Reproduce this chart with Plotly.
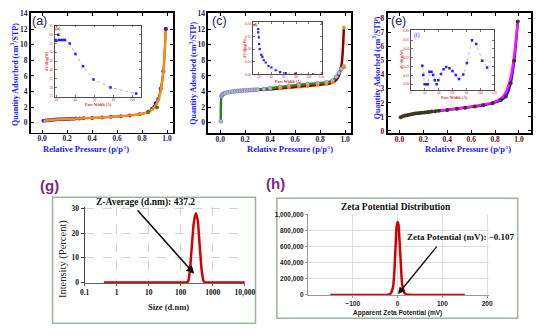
import plotly.graph_objects as go
import math

W, H = 550, 336
def fx(p): return p / W
def fy(p): return 1 - p / H

SERIF = "Liberation Serif, Times New Roman, serif"
SANS = "Liberation Sans, Arial, sans-serif"

# ---------------- data ----------------
# (a) isotherm
a_p = [0.01,0.03,0.05,0.07,0.09,0.11,0.13,0.15,0.17,0.19,0.21,0.23,0.25,0.27,0.30,0.33,0.40,0.48,0.55,0.63,0.70,0.78,0.85,0.88,0.91,0.93,0.95,0.97,0.99]
a_ads = [0.25,0.30,0.34,0.37,0.40,0.42,0.44,0.46,0.47,0.48,0.50,0.51,0.52,0.54,0.56,0.58,0.63,0.69,0.76,0.85,0.95,1.10,1.40,1.80,2.50,3.05,4.40,6.60,12.0]
a_des = [0.25,0.30,0.34,0.37,0.40,0.42,0.44,0.46,0.47,0.48,0.50,0.51,0.52,0.54,0.56,0.58,0.63,0.69,0.76,0.85,0.95,1.10,1.40,1.70,2.20,2.85,4.10,6.30,12.0]
a_mark_p = [0.85, 0.92, 0.99]
a_mark_v = [1.40, 1.95, 12.0]
# (b) inset PSD
b_w = [19,20,22,23,25,27,29,34,40,48,59,77,104]
b_v = [57,56.5,60,57,57,57,57,55,49,42,34.5,30,26.5]
# (c) isotherm
c_p = [0.005,0.01,0.015,0.02,0.03,0.04,0.06,0.08,0.10,0.12,0.14,0.16,0.18,0.20,0.22,0.24,0.26,0.28,0.30,0.35,0.40,0.48,0.55,0.63,0.70,0.78,0.85,0.90,0.93,0.95,0.97,0.99]
c_ads = [0.2,3.4,3.55,3.65,3.75,3.82,3.90,3.96,4.00,4.04,4.07,4.10,4.13,4.15,4.17,4.19,4.21,4.23,4.25,4.32,4.42,4.58,4.72,4.86,4.96,5.06,5.16,5.40,5.90,6.40,6.90,7.20]
c_dp = [0.01,0.02,0.04,0.08,0.12,0.16,0.20,0.25,0.30,0.35,0.40,0.48,0.55,0.63,0.70,0.78,0.85,0.90,0.93,0.95,0.97,0.98,0.99]
c_des = [3.3,3.6,3.78,3.93,4.02,4.08,4.13,4.18,4.22,4.26,4.30,4.40,4.50,4.62,4.72,4.84,4.96,5.15,5.50,6.00,7.20,8.80,12.0]
c_orange_p = [0.48,0.55,0.63,0.70,0.78,0.85,0.90,0.99,0.995]
c_orange_v = [4.40,4.50,4.62,4.72,4.84,4.96,5.15,12.2,7.1]
# (d) inset PSD
d_w = [19,19,20,20.5,21.5,24,25.7,28,31,35.5,40,47,54,63,78.5,107]
d_v = [0.180,0.167,0.147,0.120,0.100,0.077,0.069,0.056,0.047,0.033,0.027,0.016,0.009,0.005,0.003,0.000]
# (e) isotherm
e_p = [0.01,0.03,0.05,0.07,0.09,0.11,0.13,0.15,0.17,0.19,0.21,0.23,0.25,0.27,0.30,0.33,0.40,0.48,0.55,0.63,0.70,0.78,0.85,0.89,0.93,0.96,0.99]
e_ads = [0.97,1.05,1.10,1.14,1.18,1.21,1.24,1.26,1.28,1.30,1.32,1.34,1.36,1.38,1.41,1.44,1.50,1.58,1.65,1.74,1.83,1.98,2.20,2.45,3.40,5.00,7.80]
e_des = [0.97,1.05,1.10,1.14,1.18,1.21,1.24,1.26,1.28,1.30,1.32,1.34,1.36,1.38,1.41,1.44,1.51,1.60,1.68,1.78,1.88,2.04,2.32,2.75,3.80,5.40,7.80]
# (f) inset PSD
f_w = [16.5,17.9,19.8,22.6,24.5,26.8,29.6,32,34.4,37.2,39.5,43.3,47,50.8,55.5,59.8,64.5,69.2,75.3,80.5,88,94,102.6,109.6]
f_v = [0.021,0.0105,0.0,0.0,0.0,0.014,0.014,0.0105,0.0045,0.0,0.0045,0.0115,0.017,0.0195,0.018,0.015,0.0105,0.006,0.011,0.024,0.0497,0.0455,0.0265,0.019]
# (g) DLS size distribution
g_size = [0.4,1,10,100,150,170,190,220,255,295,340,390,450,520,600,1000,10000]
g_int = [0,0,0,0,0,0.5,4,14,24,28,25,15,5,0.5,0,0,0]
g_ticks = [0.1,1,10,100,1000,10000]
g_ticklabels = ["0.1","1","10","100","1000","10,000"]
z_average = 437.2
# (h) zeta potential distribution
h_mv = [-150,-30,-20,-15,-10,-7,-4,-2,0,2,4,7,10,15,20,30,150]
h_counts = [0,0,3000,20000,100000,300000,650000,850000,910000,880000,720000,420000,150000,30000,5000,0,0]
zeta = -0.107

fig = go.Figure()

def tr(x, y, n, **kw):
    s = "" if n == 1 else str(n)
    fig.add_trace(go.Scatter(x=x, y=y, xaxis="x" + s, yaxis="y" + s, showlegend=False, hoverinfo="skip", **kw))

# (a)
tr(a_p, a_ads, 1, mode="lines+markers", line=dict(color="#2020ff", width=2, shape="spline"), marker=dict(color="#2020ff", size=4))
tr(a_p, a_des, 1, mode="lines", line=dict(color="#ff8c00", width=2.5, shape="spline"))
tr(a_mark_p, a_mark_v, 1, mode="markers", marker=dict(color=["#6b6b10", "#6b6b10", "#5a1a7a"], size=4))
# (b)
tr(b_w, b_v, 2, mode="lines+markers", line=dict(color="#d8a8a8", width=1, dash="dot"), marker=dict(color="#2020ff", size=2.5, symbol="square"))
# (c)
tr(c_dp, c_des, 3, mode="lines", line=dict(color="#8b0000", width=2.5, shape="spline"))
tr(c_p, c_ads, 3, mode="lines+markers", line=dict(color="#1a8a1a", width=2.5, shape="spline"), marker=dict(color="#b8b8d8", size=4, line=dict(color="#7070a0", width=0.6)))
tr(c_orange_p, c_orange_v, 3, mode="markers", marker=dict(color="#ff8c00", size=3.5))
# (d)
tr(d_w, d_v, 4, mode="lines+markers", line=dict(color="#c8c8c8", width=1, dash="dot"), marker=dict(color="#2020ff", size=2.2, symbol="square"))
# (e)
tr(e_p, e_ads, 5, mode="lines", line=dict(color="#1010ff", width=2.5, shape="spline"))
tr(e_p, e_des, 5, mode="lines", line=dict(color="#ff10ff", width=2.5, shape="spline"))
tr(e_p, e_ads, 5, mode="markers", marker=dict(color="#3a3a1a", size=4))
# (f)
tr(f_w, f_v, 6, mode="lines+markers", line=dict(color="#e0b0b0", width=1, dash="dot"), marker=dict(color="#2020ff", size=2.5, symbol="square"))
# (g)
tr(g_size, g_int, 7, mode="lines", line=dict(color="#d40000", width=2.5, shape="spline", smoothing=0.6))
# (h)
tr(h_mv, h_counts, 8, mode="lines", line=dict(color="#d40000", width=2.5, shape="spline", smoothing=0.6))

def main_ax(x0, x1, rng, anchor, tickcolor, dtick, fmt):
    return dict(domain=[fx(x0), fx(x1)], range=rng, anchor=anchor, showline=True, linecolor="black",
                linewidth=1.8, mirror="ticks", ticks="inside", ticklen=3, tickwidth=1, tickcolor="black",
                showgrid=False, zeroline=False, dtick=dtick, tick0=0, tickformat=fmt,
                ticklabelstandoff=-2,
                tickfont=dict(family=SERIF, size=7.5, color=tickcolor, weight="bold"))

def main_ay(y0, y1, rng, anchor, tickcolor, dtick):
    return dict(domain=[fy(y1), fy(y0)], range=rng, anchor=anchor, showline=True, linecolor="black",
                linewidth=1.8, mirror="ticks", ticks="inside", ticklen=3, tickwidth=1, tickcolor="black",
                showgrid=False, zeroline=False, dtick=dtick, tick0=0,
                tickfont=dict(family=SERIF, size=7.5, color=tickcolor, weight="bold"))

def inset_ax(x0, x1, rng, anchor, tickvals, fmt, color):
    return dict(domain=[fx(x0), fx(x1)], range=rng, anchor=anchor, showline=True, linecolor="#222",
                linewidth=0.8, mirror="ticks", ticks="inside", ticklen=2, tickwidth=0.6, tickcolor="#222",
                showgrid=False, zeroline=False, tickvals=tickvals, tickformat=fmt,
                ticklabelstandoff=-1,
                tickfont=dict(family=SERIF, size=3.5, color=color))

def inset_ay(y0, y1, rng, anchor, tickvals, fmt, color):
    return dict(domain=[fy(y1), fy(y0)], range=rng, anchor=anchor, showline=True, linecolor="#222",
                linewidth=0.8, mirror="ticks", ticks="inside", ticklen=2, tickwidth=0.6, tickcolor="#222",
                showgrid=False, zeroline=False, tickvals=tickvals, tickformat=fmt,
                tickfont=dict(family=SERIF, size=3.5, color=color))

NAVY = "#1e1e50"
DRED = "#6a1010"
layout = dict(
    width=W, height=H, margin=dict(l=0, r=0, t=0, b=0),
    paper_bgcolor="white", plot_bgcolor="white", showlegend=False,
    xaxis=main_ax(26.7, 173.3, [-0.09, 1.05], "y", NAVY, 0.2, ".1f"),
    yaxis=main_ay(9.3, 131.7, [-1.25, 14.05], "x", NAVY, 2),
    xaxis2=inset_ax(51, 140, [18, 109], "y2", [20, 40, 60, 80, 100], "d", "#d03030"),
    yaxis2=inset_ay(22, 95, [24.7, 65.2], "x2", [25, 30, 35, 40, 45, 50, 55, 60, 65], "d", "#d03030"),
    xaxis3=main_ax(209.3, 356.7, [-0.096, 1.05], "y3", NAVY, 0.2, ".1f"),
    yaxis3=main_ay(9.3, 132.5, [-1.35, 14.05], "x3", NAVY, 2),
    xaxis4=inset_ax(255, 327, [10, 122], "y4", [20, 40, 60, 80, 100, 120], "d", "#d03030"),
    yaxis4=inset_ay(18, 72, [0, 0.21], "x4", [0, 0.05, 0.10, 0.15, 0.20], ".2f", "#d03030"),
    xaxis5=main_ax(394, 541.7, [-0.1, 1.1], "y5", DRED, 0.2, ".1f"),
    yaxis5=main_ay(9.3, 132.5, [-0.17, 8.4], "x5", DRED, 1),
    xaxis6=inset_ax(418, 504, [0, 120], "y6", [0, 20, 40, 60, 80, 100, 120], "d", "#d03030"),
    yaxis6=inset_ay(27, 88, [-0.0065, 0.061], "x6", [0, 0.01, 0.02, 0.03, 0.04, 0.05, 0.06], ".2f", "#d03030"),
    xaxis7=dict(domain=[fx(82), fx(247)], type="log", range=[-1, 4], anchor="y7", showline=True,
                linecolor="#666", linewidth=1, ticks="outside", ticklen=2, tickcolor="#666",
                tickvals=g_ticks, ticktext=g_ticklabels, showgrid=True, gridcolor="#c8c8c8",
                griddash="dash", gridwidth=0.8, zeroline=False,
                tickfont=dict(family=SERIF, size=7.5, color="#111", weight="bold")),
    yaxis7=dict(domain=[fy(286), fy(208)], range=[-0.3, 30.5], anchor="x7", showline=True,
                linecolor="#444", linewidth=1, ticks="outside", ticklen=3, tickcolor="#444",
                tickvals=[0, 10, 20, 30], showgrid=True, gridcolor="#c8c8c8", griddash="dash",
                gridwidth=0.8, zeroline=False,
                tickfont=dict(family=SERIF, size=7.5, color="#111", weight="bold")),
    xaxis8=dict(domain=[fx(312), fx(498)], range=[-200, 203], anchor="y8", showline=True,
                linecolor="#999", linewidth=1, ticks="outside", ticklen=2, tickcolor="#999",
                tickvals=[-100, 0, 100, 200], showgrid=True, gridcolor="#d6d6d6", gridwidth=0.8,
                zeroline=False, tickfont=dict(family=SANS, size=6.5, color="#222", weight="bold")),
    yaxis8=dict(domain=[fy(298), fy(215)], range=[0, 1.01e6], anchor="x8", showline=True,
                linecolor="#999", linewidth=1, ticks="outside", ticklen=2, tickcolor="#999",
                tickvals=[0, 200000, 400000, 600000, 800000, 1000000], tickformat=",d",
                showgrid=True, gridcolor="#d6d6d6", gridwidth=0.8, zeroline=False,
                tickfont=dict(family=SANS, size=6.5, color="#222", weight="bold")),
)
fig.update_layout(**layout)

# frames for (g) and (h)
for (x0, y0, x1, y1) in [(49, 198, 258, 327), (280, 199, 528, 322)]:
    fig.add_shape(type="rect", xref="paper", yref="paper", x0=fx(x0), x1=fx(x1), y0=fy(y1), y1=fy(y0),
                  line=dict(color="#9db59d", width=1.5), layer="below")

ann = []
def txt(x, y, text, size, color, family=SERIF, bold=True, angle=0, xanchor="center"):
    ann.append(dict(x=fx(x), y=fy(y), xref="paper", yref="paper", text=text, showarrow=False,
                    textangle=angle, xanchor=xanchor, yanchor="middle",
                    font=dict(family=family, size=size, color=color, weight="bold" if bold else "normal")))

BLUE = "#2020ff"
# panel labels
txt(36, 17, "(a)", 12.5, "#1a1a5a", SANS, bold=False)
txt(221, 17, "(c)", 12.5, "#1a1a5a", SANS, bold=False)
txt(405, 17, "(e)", 12.5, "#1a1a5a", SANS, bold=False)
txt(46, 186, "(g)", 15, "#7a2a8a", SANS)
txt(279, 184, "(h)", 15, "#7a2a8a", SANS)
# main axis titles
for cx in [83, 294, 477]:
    txt(cx, 149, "Relative Pressure (p/p°)", 8.5, BLUE)
txt(10, 72, "Quantity Adsorbed (cm<sup>3</sup>/STP)", 8, BLUE, angle=-90)
txt(194, 71, "Quantity Adsorbed (cm<sup>3</sup>/STP)", 8, BLUE, angle=-90)
txt(383, 65, "Quantity Adsorbed (cm<sup>3</sup>/STP)", 8, BLUE, angle=-90)
# insets
txt(55, 25, "(b)", 4.5, "#e02020")
txt(258, 21, "(d)", 4.5, "#e02020")
txt(424, 32, "(f)", 5.5, BLUE, bold=False)
txt(42.5, 58, "dV/dlog(W)", 3.8, "#d03030", angle=-90)
txt(247, 45, "dV/dlog(W)", 3.8, "#d03030", angle=-90)
txt(408.5, 57, "dV/dlog(W)", 3.8, "#d03030", angle=-90)
txt(96, 103, "Pore Width (Å)", 4, "#d03030")
txt(292, 79.5, "Pore Width (Å)", 4, "#d03030")
txt(463, 96, "Pore Width (Å)", 4, "#d03030")
# (g)
txt(145, 203, "Z-Average (d.nm): %.1f" % z_average, 9.5, "#111")
txt(60, 261, "Intensity (Percent)", 10.5, "#222", bold=False, angle=-90)
txt(168, 310, "Size (d.nm)", 8.5, "#222")
# (h)
txt(403, 208, "Zeta Potential Distribution", 9.5, "#111")
txt(470, 239, "Zeta Potential (mV): −%.3f" % abs(zeta), 9, "#111")
txt(404, 316.5, "Apparent Zeta Potential (mV)", 6.5, "#222", SANS)

# arrows
ann.append(dict(x=math.log10(263), y=3.5, xref="x7", yref="y7", ax=-58, ay=-65, text="",
                showarrow=True, arrowhead=2, arrowsize=1, arrowwidth=1.6, arrowcolor="#111"))
ann.append(dict(x=1, y=10000, xref="x8", yref="y8", ax=40, ay=-49, text="",
                showarrow=True, arrowhead=2, arrowsize=1, arrowwidth=1.4, arrowcolor="#111"))

fig.update_layout(annotations=ann)
fig.write_html("out.html", config={"displayModeBar": False, "staticPlot": True},
               post_script="document.body.style.margin='0px';document.body.style.overflow='hidden';")
